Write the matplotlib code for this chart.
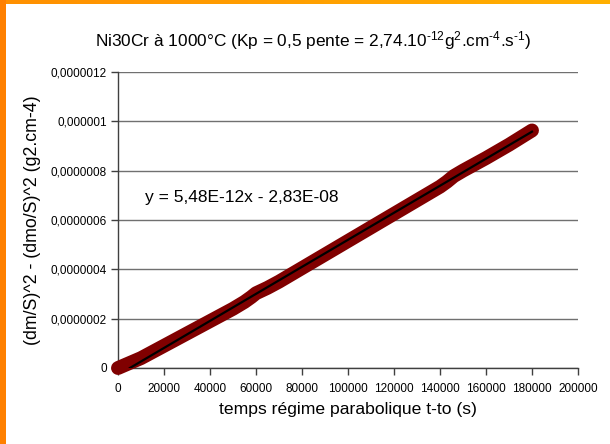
import numpy as np
import matplotlib
matplotlib.use("Agg")
import matplotlib.pyplot as plt
from matplotlib.patches import Rectangle
from matplotlib.colors import LinearSegmentedColormap

plt.rcParams['font.family'] = ['Liberation Sans', 'DejaVu Sans']
plt.rcParams['mathtext.fontset'] = 'custom'
plt.rcParams['mathtext.rm'] = 'Liberation Sans'
plt.rcParams['mathtext.it'] = 'Liberation Sans'

# data
t = [0, 2000, 5000, 10000, 20000, 30000, 40000, 50000, 55000, 58000, 60000, 65000,
     70000, 80000, 90000, 100000, 110000, 120000, 130000, 140000, 143000, 146000,
     150000, 160000, 170000, 180000]
v = [0.0, 0.008e-6, 0.02e-6, 0.040e-6, 0.090e-6, 0.140e-6, 0.190e-6, 0.240e-6, 0.268e-6,
     0.288e-6, 0.303e-6, 0.325e-6, 0.350e-6, 0.405e-6, 0.460e-6, 0.515e-6, 0.570e-6,
     0.625e-6, 0.680e-6, 0.735e-6, 0.755e-6, 0.778e-6, 0.800e-6, 0.851e-6, 0.905e-6, 0.963e-6]
slope = 5.48e-12
intercept = -2.83e-08

yticks = [0, 2e-7, 4e-7, 6e-7, 8e-7, 1e-6, 1.2e-6]
ytick_labels = ['0', '0,0000002', '0,0000004', '0,0000006', '0,0000008', '0,000001', '0,0000012']
xticks = [0, 20000, 40000, 60000, 80000, 100000, 120000, 140000, 160000, 180000, 200000]
xtick_labels = [str(x) for x in xticks]

title = (r'Ni30Cr à 1000°C (Kp = 0,5 pente = 2,74.10$^{\text{-12}}$g$^{\text{2}}$'
         r'.cm$^{\text{-4}}$.s$^{\text{-1}}$)')
eq_text = 'y = 5,48E-12x - 2,83E-08'

fig = plt.figure(figsize=(6.10, 4.44), dpi=100)
fig.patch.set_facecolor('white')

# orange frame (left + top)
W, H = 610, 444
fig.patches.append(Rectangle((0, 0), 6 / W, 1, transform=fig.transFigure,
                             facecolor='#FF8000', edgecolor='none', zorder=0))
top_ax = fig.add_axes([0, 1 - 4 / H, 1, 4 / H])
grad = np.linspace(0, 1, 256).reshape(1, -1)
cm = LinearSegmentedColormap.from_list('o', ['#FF9000', '#FFB000'])
top_ax.imshow(grad, aspect='auto', cmap=cm)
top_ax.axis('off')

ax = fig.add_axes([118 / W, 1 - 368 / H, (578 - 118) / W, (368 - 72) / H])
ax.set_xlim(0, 200000)
ax.set_ylim(0, 1.2e-6)

ax.plot(t, v, color='#800000', lw=10, solid_capstyle='round', solid_joinstyle='round',
        zorder=3, clip_on=False)
x0 = -intercept / slope
xs = np.array([x0, t[-1]])
ax.plot(xs, slope * xs + intercept, color='black', lw=1.6, zorder=4)

ax.set_yticks(yticks)
ax.set_yticklabels(ytick_labels)
ax.set_xticks(xticks)
ax.set_xticklabels(xtick_labels)
ax.tick_params(axis='both', labelsize=8.5, length=5, width=1, color='#404040', pad=3)
ax.tick_params(axis='x', pad=6)
ax.grid(axis='y', color='#707070', lw=1)
ax.set_axisbelow(True)
for s in ['top', 'right']:
    ax.spines[s].set_visible(False)
for s in ['left', 'bottom']:
    ax.spines[s].set_color('#404040')
    ax.spines[s].set_linewidth(1)

ax.set_xlabel('temps régime parabolique t-to (s)', fontsize=12.6, labelpad=5)
ax.set_ylabel('(dm/S)^2 - (dmo/S)^2 (g2.cm-4)', fontsize=12.8, labelpad=7)

fig.text(313 / W, 1 - 41 / H, title, ha='center', va='center', fontsize=12.4)
fig.text(145 / W, 1 - 197 / H, eq_text, ha='left', va='center', fontsize=12.5)

fig.savefig('out.png', dpi=100)
